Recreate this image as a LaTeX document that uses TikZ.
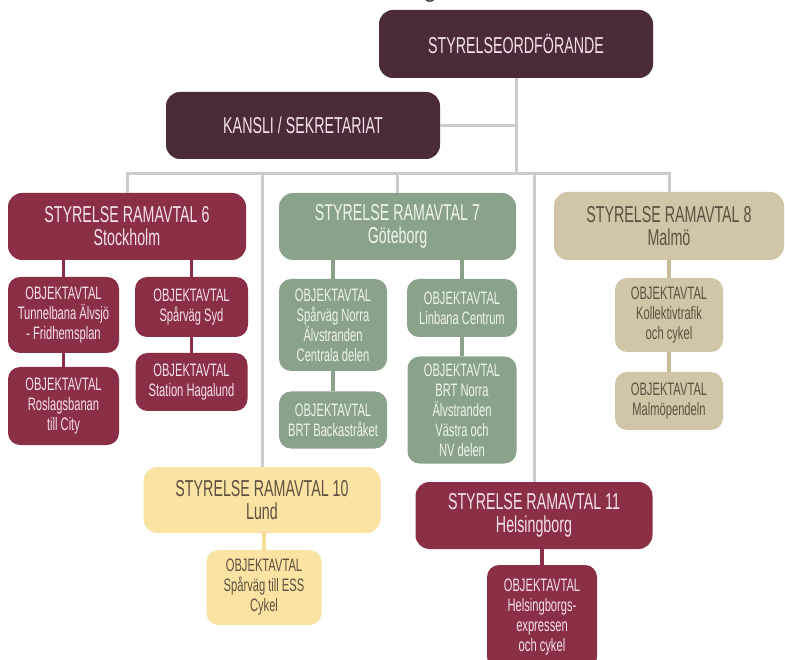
\documentclass[tikz,border=0pt]{standalone}
\usepackage{fontspec}
\setmainfont{Liberation Sans}[FakeStretch=0.62]
\newfontfamily\fragfont{Carlito}
\newcommand\BoxBigFont{\fontsize{23}{23}\selectfont}
\newcommand\BoxSmallFont{\fontsize{18}{20}\selectfont}
\definecolor{plum}{HTML}{4B2A39}
\definecolor{burg}{HTML}{8B2F47}
\definecolor{sage}{HTML}{8AA289}
\definecolor{beige}{HTML}{D1C5A7}
\definecolor{sand}{HTML}{FBE3A3}
\definecolor{beigeline}{HTML}{C9BA9A}
\definecolor{sandline}{HTML}{F6DC9A}
\definecolor{lightpink}{HTML}{F4E2E7}
\definecolor{lightgreen}{HTML}{F0F4EE}
\definecolor{darkbrown}{HTML}{5C5040}
\definecolor{linegray}{HTML}{CBCBCB}
\tikzset{
  boxbase/.style={inner sep=0pt, align=center},
  bigbox/.style={boxbase, rounded corners=14pt, font=\BoxBigFont},
  smallbox/.style={boxbase, rounded corners=12pt, font=\BoxSmallFont},
  plumfill/.style={fill=plum, text=lightpink},
  burgfill/.style={fill=burg, text=lightpink},
  sagefill/.style={fill=sage, text=lightgreen},
  beigefill/.style={fill=beige, text=darkbrown},
  sandfill/.style={fill=sand, text=darkbrown},
  grayline/.style={draw=linegray, line width=3pt},
  burgline/.style={draw=burg, line width=3.5pt},
  sageline/.style={draw=sage, line width=3.5pt},
  beigeline/.style={draw=beigeline, line width=3.5pt},
  sandline/.style={draw=sandline, line width=3.5pt},
}
\begin{document}
\begin{tikzpicture}[x=1pt, y=-1pt]
\useasboundingbox (0,0) rectangle (785,660);
\clip (0,0) rectangle (785,660);
\fill[white] (0,0) rectangle (785,660);

% partial text at top edge
\node[anchor=base, inner sep=0pt, font=\fragfont\fontsize{22}{22}\selectfont, text=black!85] (frag) at (430,-1) {g};

% top level
\node[bigbox, plumfill, minimum width=274pt, minimum height=68pt] (chair) at (516,44) {STYRELSEORDFÖRANDE};
\node[bigbox, plumfill, minimum width=274pt, minimum height=67pt] (kansli) at (303,125.5) {KANSLI / SEKRETARIAT};

% framework boards
\node[bigbox, burgfill, minimum width=238pt, minimum height=67pt] (rv6) at (127,226.5) {STYRELSE RAMAVTAL 6\\Stockholm};
\node[bigbox, sagefill, minimum width=237pt, minimum height=67pt] (rv7) at (397.5,226.5) {STYRELSE RAMAVTAL 7\\Göteborg};
\node[bigbox, beigefill, minimum width=230pt, minimum height=68pt] (rv8) at (669,226) {STYRELSE RAMAVTAL 8\\Malmö};
\node[bigbox, sandfill, minimum width=237pt, minimum height=66pt] (rv10) at (262,500) {STYRELSE RAMAVTAL 10\\Lund};
\node[bigbox, burgfill, minimum width=237pt, minimum height=67pt] (rv11) at (534,515.5) {STYRELSE RAMAVTAL 11\\Helsingborg};

% Stockholm
\node[smallbox, burgfill, minimum width=111pt, minimum height=76pt] (o61) at (63.5,315) {OBJEKTAVTAL\\Tunnelbana Älvsjö\\- Fridhemsplan};
\node[smallbox, burgfill, minimum width=113pt, minimum height=60pt] (o62) at (191.5,307) {OBJEKTAVTAL\\Spårväg Syd};
\node[smallbox, burgfill, minimum width=111pt, minimum height=78pt] (o63) at (63.5,406) {OBJEKTAVTAL\\Roslagsbanan\\till City};
\node[smallbox, burgfill, minimum width=112pt, minimum height=58pt] (o64) at (191.5,382) {OBJEKTAVTAL\\Station Hagalund};

% Göteborg
\node[smallbox, sagefill, minimum width=108pt, minimum height=92pt] (o71) at (333,325) {OBJEKTAVTAL\\Spårväg Norra\\Älvstranden\\Centrala delen};
\node[smallbox, sagefill, minimum width=110pt, minimum height=58pt] (o72) at (462,308) {OBJEKTAVTAL\\Linbana Centrum};
\node[smallbox, sagefill, minimum width=108pt, minimum height=57pt] (o73) at (333,420) {OBJEKTAVTAL\\BRT Backastråket};
\node[smallbox, sagefill, minimum width=109pt, minimum height=107pt] (o74) at (462,410) {OBJEKTAVTAL\\BRT Norra\\Älvstranden\\Västra och\\NV delen};

% Malmö
\node[smallbox, beigefill, minimum width=108pt, minimum height=74pt] (o81) at (669,315) {OBJEKTAVTAL\\Kollektivtrafik\\och cykel};
\node[smallbox, beigefill, minimum width=108pt, minimum height=58pt] (o82) at (669,401) {OBJEKTAVTAL\\Malmöpendeln};

% Lund
\node[smallbox, sandfill, minimum width=115pt, minimum height=75pt] (o101) at (264,587.5) {OBJEKTAVTAL\\Spårväg till ESS\\Cykel};

% Helsingborg
\node[smallbox, burgfill, minimum width=110pt, minimum height=104pt] (o111) at (542,617) {OBJEKTAVTAL\\Helsingborgs-\\expressen\\och cykel};

% main connectors
\coordinate (bus) at (0,174);
\path[grayline] (chair.south) -- (chair.south |- bus);
\path[grayline] (kansli.east) -- (kansli.east -| chair.south);
\path[grayline] (rv6.north) -- (rv6.north |- bus) -- (rv8.north |- bus) -- (rv8.north);
\path[grayline] (rv7.north |- bus) -- (rv7.north);
\path[grayline] (rv10.north |- bus) -- (rv10.north);
\path[grayline] (rv11.north |- bus) -- (rv11.north);

% child connectors
\path[burgline] (o61.north) -- (o61.north |- rv6.south);
\path[burgline] (o62.north) -- (o62.north |- rv6.south);
\path[burgline] (o63.north) -- (o63.north |- o61.south);
\path[burgline] (o64.north) -- (o64.north |- o62.south);
\path[sageline] (o71.north) -- (o71.north |- rv7.south);
\path[sageline] (o72.north) -- (o72.north |- rv7.south);
\path[sageline] (o73.north) -- (o73.north |- o71.south);
\path[sageline] (o74.north) -- (o74.north |- o72.south);
\path[beigeline] (o81.north) -- (o81.north |- rv8.south);
\path[beigeline] (o82.north) -- (o82.north |- o81.south);
\path[sandline] (o101.north) -- (o101.north |- rv10.south);
\path[burgline] (o111.north) -- (o111.north |- rv11.south);
\end{tikzpicture}
\end{document}
